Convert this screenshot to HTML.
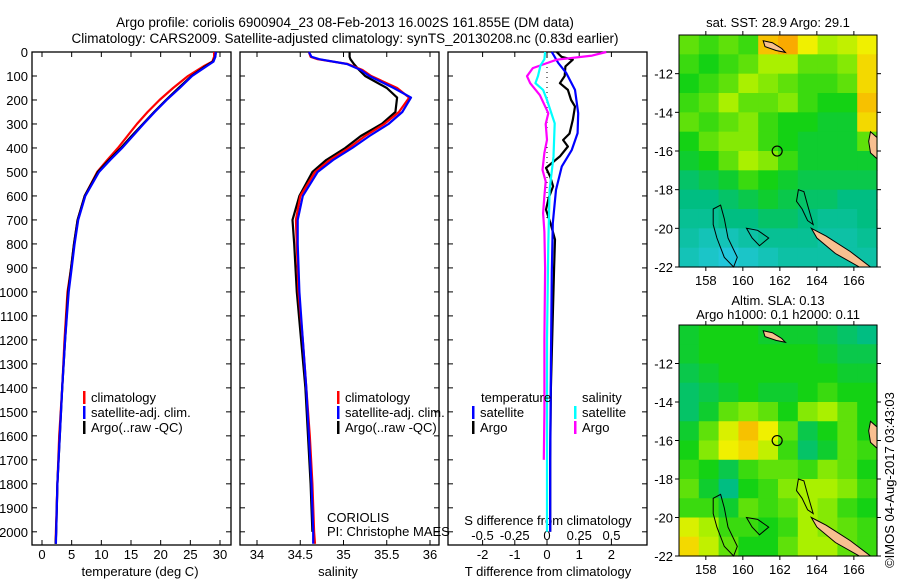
<!DOCTYPE html>
<html><head><meta charset="utf-8"><style>
body{margin:0;background:#fff}
svg{display:block;font-family:"Liberation Sans",sans-serif}
</style></head><body>
<svg id="c" width="900" height="580" viewBox="0 0 900 580">
<text x="345" y="27" font-size="13.5" text-anchor="middle">Argo profile: coriolis 6900904_23 08-Feb-2013 16.002S 161.855E (DM data)</text>
<text x="345" y="43" font-size="13.5" text-anchor="middle">Climatology: CARS2009. Satellite-adjusted climatology: synTS_20130208.nc (0.83d earlier)</text>
<text x="778" y="27" font-size="13" text-anchor="middle">sat. SST: 28.9 Argo: 29.1</text>
<text x="778" y="305" font-size="13" text-anchor="middle">Altim. SLA: 0.13</text>
<text x="778" y="319" font-size="13" text-anchor="middle">Argo h1000: 0.1 h2000: 0.11</text>
<text transform="translate(894,480) rotate(-90)" font-size="13" text-anchor="middle">©IMOS 04-Aug-2017 03:43:03</text>
</svg>
<script>
// ---------- data ----------
const depthTicks=[0,100,200,300,400,500,600,700,800,900,1000,1100,1200,1300,1400,1500,1600,1700,1800,1900,2000];
const tempTicks=[0,5,10,15,20,25,30];
const salTicks=[34,34.5,35,35.5,36];
const salTickLabels=["34","34.5","35","35.5","36"];
const tdTicks=[-2,-1,0,1,2];
const sdTicks=[-0.5,-0.25,0,0.25,0.5];
const sdTickLabels=["-0.5","-0.25","0","0.25","0.5"];

const tDepth=[0,20,40,60,100,150,200,250,300,350,400,450,500,600,700,800,900,1000,1200,1400,1600,1800,2000,2050];
const tempArgo=[29.3,29.2,28.8,27.5,25.2,23.0,20.9,18.9,17.0,15.1,13.3,11.3,9.4,7.2,6.0,5.4,4.9,4.4,3.9,3.4,3.0,2.6,2.4,2.3];
const tempClim=[29.0,29.0,28.7,27.2,24.6,22.1,19.8,17.8,16.0,14.4,12.8,11.0,9.3,7.2,6.0,5.4,4.9,4.3,3.8,3.4,2.9,2.6,2.35,2.3];
const tempSat=[29.3,29.2,28.9,27.7,25.3,23.2,21.0,19.0,17.1,15.3,13.5,11.5,9.6,7.3,6.1,5.5,5.0,4.5,3.9,3.4,3.0,2.6,2.4,2.35];

const sDepth=[0,20,30,50,75,100,150,190,250,300,350,400,450,500,600,700,800,1000,1200,1400,1600,1800,2000,2050];
const salClim=[34.6,34.62,34.7,35.05,35.22,35.32,35.62,35.76,35.64,35.47,35.25,35.06,34.84,34.67,34.5,34.45,34.46,34.48,34.53,34.57,34.61,34.64,34.66,34.67];
const salSat=[34.6,34.63,34.72,35.04,35.2,35.3,35.58,35.78,35.68,35.52,35.3,35.1,34.88,34.7,34.53,34.47,34.47,34.49,34.53,34.57,34.6,34.63,34.65,34.65];
const sArgoDepth=[0,20,30,50,75,100,150,190,250,300,350,400,450,500,600,700,800,1000,1200,1400,1600,1800,2000];
const salArgo=[35.07,35.07,35.08,35.12,35.18,35.25,35.5,35.62,35.6,35.44,35.2,35.02,34.8,34.64,34.49,34.41,34.43,34.46,34.51,34.56,34.59,34.62,34.64];

const tdSatDepth=[0,46,88,158,255,338,408,477,575,713,920,1300,1700,2000];
const tdSat=[0.15,0.35,0.6,0.87,0.97,0.95,0.77,0.46,0.28,0.18,0.15,0.12,0.1,0.1];
const tdArgoDepth=[0,20,32,60,100,130,158,200,227,283,340,367,394,435,483,520,560,610,657,720,782,900,1100,1400,1700,2000];
const tdArgo=[0.3,0.45,0.8,0.57,0.55,0.4,0.65,0.75,0.87,0.8,0.7,0.5,0.65,0.4,-0.03,0.1,0.19,0.05,-0.03,0.12,0.25,0.22,0.18,0.12,0.1,0.1];
const sdSatDepth=[0,30,56,100,130,158,200,297,436,575,800,1200,2000];
const sdSat=[-0.015,-0.02,-0.05,-0.07,-0.09,-0.03,0.0,0.06,0.05,0.02,0.01,0.0,0.0];
const sdArgoDepth=[0,15,32,50,67,101,130,180,255,300,366,420,491,540,600,672,750,900,1200,1500,1700];
const sdArgo=[0.46,0.35,0.075,-0.02,-0.11,-0.155,-0.13,-0.055,0.01,-0.01,0,-0.02,-0.035,-0.01,-0.02,-0.03,-0.02,-0.015,-0.02,-0.02,-0.025];

const lonTicks=[158,160,162,164,166];
const latTicks=[-12,-14,-16,-18,-20,-22];
const sstGrid=[
[.6,.55,.6,.55,.95,1,.85,.7,.75,.85],
[.55,.5,.55,.6,.7,.7,.6,.6,.65,.9],
[.5,.55,.6,.7,.65,.6,.55,.55,.6,.9],
[.55,.6,.7,.6,.6,.65,.55,.5,.5,.95],
[.6,.55,.6,.65,.55,.5,.5,.45,.45,.9],
[.5,.6,.65,.65,.55,.5,.45,.45,.45,.6],
[.45,.5,.6,.7,.65,.55,.45,.45,.45,.45],
[.35,.4,.45,.55,.5,.45,.4,.4,.4,.4],
[.3,.3,.35,.4,.45,.4,.35,.35,.3,.3],
[.25,.25,.3,.3,.35,.35,.3,.25,.25,.3],
[.2,.15,.15,.2,.25,.25,.25,.2,.2,.25],
[.15,.1,.05,.1,.15,.2,.2,.2,.2,.2]];
const slaGrid=[
[.45,.5,.5,.5,.45,.45,.45,.4,.35,.3],
[.45,.5,.5,.5,.5,.5,.5,.45,.4,.4],
[.4,.45,.5,.5,.5,.5,.5,.5,.45,.45],
[.35,.4,.45,.5,.45,.45,.5,.55,.5,.5],
[.35,.45,.6,.65,.6,.5,.65,.7,.6,.5],
[.45,.6,.8,.95,.85,.6,.4,.5,.6,.5],
[.5,.65,.85,.9,.75,.55,.35,.45,.6,.55],
[.55,.5,.4,.55,.6,.6,.55,.65,.6,.5],
[.6,.45,.3,.5,.55,.65,.7,.7,.65,.55],
[.55,.55,.45,.6,.55,.6,.7,.65,.55,.5],
[.8,.7,.55,.55,.5,.55,.7,.65,.6,.55],
[.9,.75,.6,.5,.5,.6,.7,.7,.6,.55]];
const argoLon=161.855, argoLat=-16.002;

// ---------- helpers ----------
const svg=document.getElementById('c');
const NS='http://www.w3.org/2000/svg';
function mk(tag,attrs,parent){const e=document.createElementNS(NS,tag);for(const k in attrs)e.setAttribute(k,attrs[k]);(parent||svg).appendChild(e);return e;}
function txt(x,y,s,anchor,size,parent){const t=mk('text',{x:x,y:y,'font-size':size||13,'text-anchor':anchor||'start'},parent);t.textContent=s;return t;}
const TOP=52,BOT=545,DMAX=2055;
const yD=d=>TOP+d*(BOT-TOP)/DMAX;
const xT=t=>42+t*(220-42)/30;
const xS=s=>257+(s-34)*(430-257)/2;
const xTD=d=>547+d*32.2;
const xSD=s=>547+s*129;
function line(xs,ds,fx,color,w,name){
  const p=xs.map((v,i)=>fx(v).toFixed(1)+','+yD(ds[i]).toFixed(1)).join(' ');
  const e=mk('polyline',{points:p,fill:'none',stroke:color,'stroke-width':w,'stroke-linejoin':'round'});
  
  
}
function frame(x0,x1,name){
  const r=mk('rect',{x:x0,y:TOP,width:x1-x0,height:BOT-TOP,fill:'none',stroke:'#000','stroke-width':1.3});
  
  
  depthTicks.forEach(d=>{mk('line',{x1:x0,x2:x0+5,y1:yD(d),y2:yD(d),stroke:'#000'});mk('line',{x1:x1,x2:x1-5,y1:yD(d),y2:yD(d),stroke:'#000'});});
}
// panel 1
frame(32,231,'temperature-panel');
depthTicks.forEach(d=>{const t=txt(28,yD(d)+5,String(d),'end');});
tempTicks.forEach(v=>{mk('line',{x1:xT(v),x2:xT(v),y1:BOT,y2:BOT-5,stroke:'#000'});mk('line',{x1:xT(v),x2:xT(v),y1:TOP,y2:TOP+5,stroke:'#000'});const t=txt(xT(v),559,String(v),'middle');});
txt(140,576,'temperature (deg C)','middle');
line(tempClim,tDepth,xT,'#f00',2.2,'temp-climatology-line');
line(tempArgo,tDepth,xT,'#000',2.2,'temp-argo-line');
line(tempSat,tDepth,xT,'#00f',2.2,'temp-satellite-line');
// panel 2
frame(240,439,'salinity-panel');
salTicks.forEach((v,i)=>{mk('line',{x1:xS(v),x2:xS(v),y1:BOT,y2:BOT-5,stroke:'#000'});mk('line',{x1:xS(v),x2:xS(v),y1:TOP,y2:TOP+5,stroke:'#000'});const t=txt(xS(v),559,salTickLabels[i],'middle');});
txt(338,576,'salinity','middle');
line(salArgo,sArgoDepth,xS,'#000',2.2,'sal-argo-line');
line(salClim,sDepth,xS,'#f00',2.2,'sal-climatology-line');
line(salSat,sDepth,xS,'#00f',2.2,'sal-satellite-line');
txt(327,522,'CORIOLIS');txt(327,536,'PI: Christophe MAES');
// panel 3
frame(448,647,'difference-panel');
tdTicks.forEach(v=>{mk('line',{x1:xTD(v),x2:xTD(v),y1:BOT,y2:BOT-5,stroke:'#000'});mk('line',{x1:xTD(v),x2:xTD(v),y1:TOP,y2:TOP+5,stroke:'#000'});const t=txt(xTD(v),559,String(v),'middle');});
sdTicks.forEach((v,i)=>{const t=txt(xSD(v),540,sdTickLabels[i],'middle');});
txt(548,525,'S difference from climatology','middle');
txt(548,576,'T difference from climatology','middle');
mk('line',{x1:547,x2:547,y1:TOP,y2:yD(700),stroke:'#000','stroke-dasharray':'1,4'});
line(tdArgo,tdArgoDepth,xTD,'#000',2.2,'t-diff-argo-line');
line(tdSat,tdSatDepth,xTD,'#00f',2.2,'t-diff-satellite-line');
line(sdArgo,sdArgoDepth,xSD,'#f0f',2.2,'s-diff-argo-line');
line(sdSat,sdSatDepth,xSD,'#0ff',2.2,'s-diff-satellite-line');
// legends
function leg(x,y,color,label,name){const g=mk('g',{});mk('rect',{x:x,y:y-11,width:2.5,height:13,fill:color},g);txt(x+8,y,label,'start',13,g);}
[[83,'temp'],[337,'sal']].forEach(([x,n])=>{leg(x,402,'#f00','climatology','legend-'+n+'-climatology');leg(x,417,'#00f','satellite-adj. clim.','legend-'+n+'-satellite');leg(x,432,'#000','Argo(..raw -QC)','legend-'+n+'-argo');});
txt(481,402,'temperature');txt(582,402,'salinity');
leg(472,417,'#00f','satellite','legend-t-satellite');leg(472,432,'#000','Argo','legend-t-argo');
leg(574,417,'#0ff','satellite','legend-s-satellite');leg(574,432,'#f0f','Argo','legend-s-argo');

// ---------- maps ----------
const LON0=156.55,LON1=167.25,LAT0=-10.0,LAT1=-22.0;
function cmap(v){const st=[[0,[40,200,235]],[0.3,[0,190,130]],[0.5,[20,210,20]],[0.7,[170,240,0]],[0.85,[240,240,0]],[1,[250,170,0]]];
 for(let i=1;i<st.length;i++){if(v<=st[i][0]){const a=st[i-1],b=st[i],f=(v-a[0])/(b[0]-a[0]);return 'rgb('+a[1].map((c,k)=>Math.round(c+(b[1][k]-c)*f)).join(',')+')';}}return 'rgb(250,170,0)';}
function map(y0,y1,grid,name,labelY){
 const X0=679,X1=877;
 const xL=l=>X0+(l-LON0)*(X1-X0)/(LON1-LON0);
 const yL=l=>y0+(l-LAT0)*(y1-y0)/(LAT1-LAT0);
 const g=mk('g',{});
 const rows=grid.length,cols=grid[0].length,cw=(X1-X0)/cols,ch=(y1-y0)/rows;
 grid.forEach((r,i)=>r.forEach((v,j)=>{const c=mk('rect',{x:X0+j*cw,y:y0+i*ch,width:cw+0.6,height:ch+0.6,fill:cmap(v)},g);}));
 const P=pts=>pts.map(p=>xL(p[0]).toFixed(1)+','+yL(p[1]).toFixed(1)).join(' ');
 mk('polygon',{points:P([[163.7,-20.0],[164.5,-20.4],[165.8,-21.2],[166.9,-22],[166.3,-22],[165,-21.3],[164,-20.5]]),fill:'#f8c090',stroke:'#000','stroke-width':1},g);
 mk('polygon',{points:P([[161.1,-10.3],[161.6,-10.4],[162.1,-10.7],[162.3,-10.9],[161.8,-10.8],[161.2,-10.6]]),fill:'#f8c090',stroke:'#000','stroke-width':1},g);
 mk('polygon',{points:P([[166.9,-15.0],[167.25,-15.3],[167.25,-16.4],[166.9,-16.1],[166.8,-15.5]]),fill:'#f8c090',stroke:'#000','stroke-width':1},g);
 mk('polygon',{points:P([[158.4,-19.0],[158.8,-18.8],[159.0,-19.5],[159.2,-20.5],[159.7,-21.5],[159.5,-22],[159.0,-21.5],[158.6,-20.5],[158.4,-19.8]]),fill:'none',stroke:'#000','stroke-width':1},g);
 mk('polygon',{points:P([[163.0,-18.0],[163.3,-18.1],[163.5,-18.8],[163.8,-19.8],[163.5,-19.6],[163.2,-19.0],[162.9,-18.6]]),fill:'none',stroke:'#000','stroke-width':1},g);
 mk('polygon',{points:P([[160.2,-20.0],[160.8,-20.1],[161.4,-20.5],[160.9,-20.9],[160.5,-20.5]]),fill:'none',stroke:'#000','stroke-width':1},g);
 mk('circle',{cx:xL(argoLon),cy:yL(argoLat),r:5,fill:'none',stroke:'#000','stroke-width':1.2},g);
 mk('rect',{x:X0,y:y0,width:X1-X0,height:y1-y0,fill:'none',stroke:'#000','stroke-width':1},g);
 lonTicks.forEach(l=>{mk('line',{x1:xL(l),x2:xL(l),y1:y1,y2:y1+4,stroke:'#000'},g);mk('line',{x1:xL(l),x2:xL(l),y1:y0,y2:y0-4,stroke:'#000'},g);const t=txt(xL(l),labelY,String(l),'middle',13,g);});
 latTicks.forEach(l=>{mk('line',{x1:X0,x2:X0-4,y1:yL(l),y2:yL(l),stroke:'#000'},g);mk('line',{x1:X1,x2:X1+4,y1:yL(l),y2:yL(l),stroke:'#000'},g);const t=txt(673,yL(l)+5,String(l),'end',13,g);});
}
map(35,267,sstGrid,'sst-map',285);
map(325,556,slaGrid,'sla-map',574);
</script>
</body></html>
